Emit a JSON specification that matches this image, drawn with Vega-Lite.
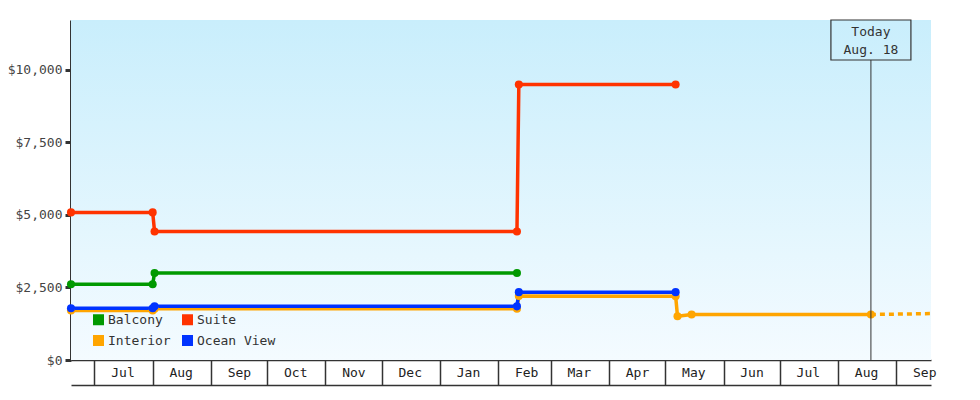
{
  "$schema": "https://vega.github.io/schema/vega-lite/v6.json",
  "width": 860,
  "height": 340,
  "autosize": {"type": "none"},
  "padding": {"left": 71, "top": 20, "right": 49, "bottom": 40},
  "background": "white",
  "config": {
    "view": {"stroke": null},
    "font": "DejaVu Sans Mono",
    "axis": {"grid": false, "labelFont": "DejaVu Sans Mono", "zindex": 1},
    "legend": {"labelFont": "DejaVu Sans Mono"}
  },
  "datasets": {
    "fares": [
      {"cabin": "Balcony", "date": "2022-06-18T12:00", "price": 2610},
      {"cabin": "Balcony", "date": "2022-08-01T00:00", "price": 2610},
      {"cabin": "Balcony", "date": "2022-08-02T00:00", "price": 3000},
      {"cabin": "Balcony", "date": "2023-02-11T00:00", "price": 3000},
      {"cabin": "Suite", "date": "2022-06-18T12:00", "price": 5090},
      {"cabin": "Suite", "date": "2022-08-01T00:00", "price": 5090},
      {"cabin": "Suite", "date": "2022-08-02T00:00", "price": 4430},
      {"cabin": "Suite", "date": "2023-02-11T00:00", "price": 4430},
      {"cabin": "Suite", "date": "2023-02-12T00:00", "price": 9500},
      {"cabin": "Suite", "date": "2023-05-06T12:00", "price": 9500},
      {"cabin": "Interior", "date": "2022-06-18T12:00", "price": 1710},
      {"cabin": "Interior", "date": "2022-08-01T00:00", "price": 1710},
      {"cabin": "Interior", "date": "2022-08-02T00:00", "price": 1770},
      {"cabin": "Interior", "date": "2023-02-11T00:00", "price": 1770},
      {"cabin": "Interior", "date": "2023-02-12T00:00", "price": 2210},
      {"cabin": "Interior", "date": "2023-05-06T12:00", "price": 2200},
      {"cabin": "Interior", "date": "2023-05-07T12:00", "price": 1510},
      {"cabin": "Interior", "date": "2023-05-15T00:00", "price": 1570},
      {"cabin": "Interior", "date": "2023-08-18T12:00", "price": 1570},
      {"cabin": "Ocean View", "date": "2022-06-18T12:00", "price": 1785},
      {"cabin": "Ocean View", "date": "2022-08-01T00:00", "price": 1785},
      {"cabin": "Ocean View", "date": "2022-08-02T00:00", "price": 1850},
      {"cabin": "Ocean View", "date": "2023-02-11T00:00", "price": 1850},
      {"cabin": "Ocean View", "date": "2023-02-12T00:00", "price": 2340},
      {"cabin": "Ocean View", "date": "2023-05-06T12:00", "price": 2340}
    ],
    "forecast": [
      {"cabin": "Interior", "date": "2023-08-18T12:00", "price": 1570},
      {"cabin": "Interior", "date": "2023-09-19T12:00", "price": 1600}
    ],
    "today": [
      {"day": "2023-08-18T12:00", "label": "Today\nAug. 18"}
    ]
  },
  "resolve": {"axis": {"x": "independent"}},
  "layer": [
    {
      "data": {"values": [{}]},
      "mark": {
        "type": "rect",
        "color": {
          "gradient": "linear",
          "x1": 0, "y1": 0, "x2": 0, "y2": 1,
          "stops": [
            {"offset": 0, "color": "#c9eefc"},
            {"offset": 1, "color": "#f4fbff"}
          ]
        }
      },
      "encoding": {
        "x": {
          "datum": {"year": 2022, "month": 6, "date": 18, "hours": 12},
          "type": "temporal",
          "scale": {"domain": [{"year": 2022, "month": 6, "date": 18, "hours": 12}, {"year": 2023, "month": 9, "date": 19, "hours": 12}]},
          "axis": {"orient": "bottom", "offset": 25, "ticks": false, "labels": false, "domainColor": "#333", "domainWidth": 1.5, "title": null}
        },
        "x2": {"datum": {"year": 2023, "month": 9, "date": 19, "hours": 12}},
        "y": {"datum": 0, "type": "quantitative"},
        "y2": {"datum": 11724}
      }
    },
    {
      "data": {"name": "fares"},
      "mark": {"type": "line", "strokeWidth": 3.5, "point": {"filled": true, "size": 65}},
      "encoding": {
        "x": {
          "field": "date",
          "type": "temporal",
          "scale": {"domain": [{"year": 2022, "month": 6, "date": 18, "hours": 12}, {"year": 2023, "month": 9, "date": 19, "hours": 12}]},
          "axis": {
            "orient": "bottom",
            "title": null,
            "format": "%b",
            "tickCount": {"interval": "month", "step": 1},
            "tickSize": 25,
            "tickColor": "#333",
            "tickWidth": 1.5,
            "domainColor": "#333",
            "domainWidth": 1.5,
            "labelAlign": "center",
            "labelOffset": 28,
            "labelPadding": -19,
            "labelFlush": false,
            "labelOverlap": false,
            "labelFontSize": 13,
            "labelColor": "#222"
          }
        },
        "y": {
          "field": "price",
          "type": "quantitative",
          "scale": {"domain": [0, 11724], "nice": false},
          "axis": {
            "title": null,
            "values": [0, 2500, 5000, 7500, 10000],
            "format": "$,.0f",
            "domainColor": "#333",
            "domainWidth": 3,
            "tickColor": "#333",
            "tickWidth": 3,
            "tickSize": 6,
            "labelPadding": 3,
            "labelFontSize": 13,
            "labelColor": "#444"
          }
        },
        "color": {
          "field": "cabin",
          "type": "nominal",
          "scale": {
            "domain": ["Balcony", "Suite", "Interior", "Ocean View"],
            "range": ["#009900", "#ff3300", "#ffa500", "#0033ff"]
          },
          "legend": {
            "orient": "none",
            "legendX": 21,
            "legendY": 293,
            "columns": 2,
            "direction": "horizontal",
            "title": null,
            "symbolType": "square",
            "symbolSize": 121,
            "symbolStrokeWidth": 0,
            "labelFontSize": 13,
            "labelColor": "#333",
            "labelOffset": 3,
            "columnPadding": 10,
            "rowPadding": 7,
            "padding": 0,
            "encode": {
              "symbols": {
                "update": {
                  "fill": {"scale": "color", "field": "value"},
                  "opacity": {"value": 1}
                }
              }
            }
          }
        }
      }
    },
    {
      "data": {"name": "forecast"},
      "mark": {"type": "line", "strokeWidth": 3.5, "strokeDash": [5, 4]},
      "encoding": {
        "x": {"field": "date", "type": "temporal", "axis": null},
        "y": {"field": "price", "type": "quantitative", "title": null},
        "color": {"field": "cabin", "type": "nominal", "legend": null}
      }
    },
    {
      "data": {"name": "today"},
      "mark": {"type": "rule", "color": "#333", "strokeWidth": 1},
      "encoding": {
        "x": {"field": "day", "type": "temporal", "axis": null},
        "y": {"datum": 10345, "type": "quantitative"},
        "y2": {"datum": 0}
      }
    },
    {
      "data": {"name": "today"},
      "mark": {"type": "rect", "filled": false, "color": "#333", "strokeWidth": 1.2, "width": 80, "height": 40},
      "encoding": {
        "x": {"field": "day", "type": "temporal", "axis": null},
        "y": {"datum": 11034, "type": "quantitative"}
      }
    },
    {
      "data": {"name": "today"},
      "mark": {"type": "text", "lineBreak": "\n", "lineHeight": 18, "align": "center", "baseline": "middle", "dy": -8, "fontSize": 13, "color": "#333"},
      "encoding": {
        "x": {"field": "day", "type": "temporal", "axis": null},
        "y": {"datum": 11034, "type": "quantitative"},
        "text": {"field": "label"}
      }
    }
  ]
}
